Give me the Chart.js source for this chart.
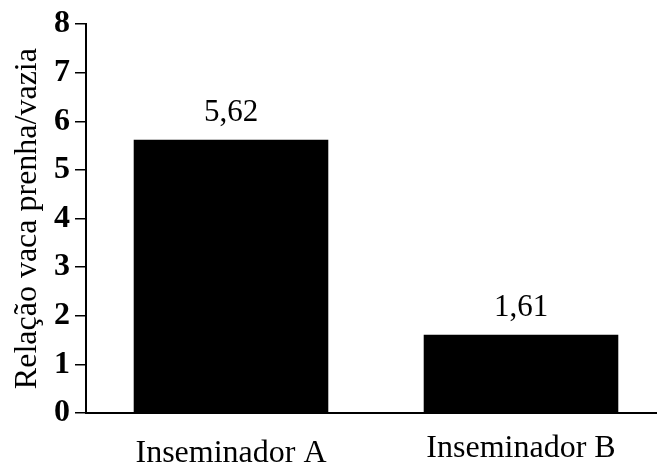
<!DOCTYPE html>
<html>
<head>
<meta charset="utf-8">
<script src="https://cdn.jsdelivr.net/npm/chart.js@4"></script>
<style>
html,body{margin:0;padding:0;background:#fff;overflow:hidden;width:657px;height:464px;}
#wrap{width:670px;height:464px;}
</style>
</head>
<body>
<div id="wrap"><canvas id="c" width="670" height="464"></canvas></div>
<script>
const categories = ['Inseminador A', 'Inseminador B'];
const values = [5.62, 1.61];
const valueLabels = ['5,62', '1,61'];
const yTickValues = [0, 1, 2, 3, 4, 5, 6, 7, 8];
const yTitle = 'Relação vaca prenha/vazia';

const SERIF = "'Liberation Serif', 'Times New Roman', Times, serif";
const labelDrops = [49, 44];

const labelPlugin = {
  id: 'labels',
  afterDatasetsDraw(chart) {
    const ctx = chart.ctx;
    const meta = chart.getDatasetMeta(0);
    ctx.save();
    ctx.fillStyle = '#000';
    ctx.textAlign = 'center';
    ctx.textBaseline = 'alphabetic';
    ctx.font = '31px ' + SERIF;
    meta.data.forEach((bar, i) => {
      ctx.fillText(valueLabels[i], bar.x, bar.y - 19);
    });
    ctx.font = '32px ' + SERIF;
    const xs = chart.scales.x;
    categories.forEach((c, i) => {
      ctx.fillText(c, xs.getPixelForValue(i), chart.chartArea.bottom + labelDrops[i]);
    });
    ctx.restore();
  }
};

new Chart(document.getElementById('c'), {
  type: 'bar',
  data: {
    labels: categories,
    datasets: [{
      data: values,
      backgroundColor: '#000',
      borderWidth: 0,
      barPercentage: 0.671,
      categoryPercentage: 1
    }]
  },
  options: {
    responsive: false,
    devicePixelRatio: 1,
    animation: false,
    layout: { padding: { left: 8, top: 24, right: 4, bottom: 51 } },
    plugins: { legend: { display: false }, tooltip: { enabled: false } },
    scales: {
      x: {
        ticks: { display: false },
        grid: { display: false, drawTicks: false },
        border: { display: true, color: '#000', width: 2 }
      },
      y: {
        min: 0,
        max: 8,
        afterBuildTicks: s => { s.ticks = yTickValues.map(v => ({ value: v })); },
        afterFit: s => { s.width = 78; },
        ticks: {
          color: '#000',
          padding: 5,
          font: { family: SERIF, size: 32, weight: 'bold' }
        },
        grid: {
          drawOnChartArea: false,
          drawTicks: true,
          tickLength: 11,
          color: '#000',
          lineWidth: 1.5
        },
        border: { display: true, color: '#000', width: 2 },
        title: {
          display: true,
          text: yTitle,
          color: '#000',
          padding: { top: 0, bottom: 0 },
          font: { family: SERIF, size: 32, weight: 'normal', lineHeight: 1.2 }
        }
      }
    }
  },
  plugins: [labelPlugin]
});
</script>
</body>
</html>
